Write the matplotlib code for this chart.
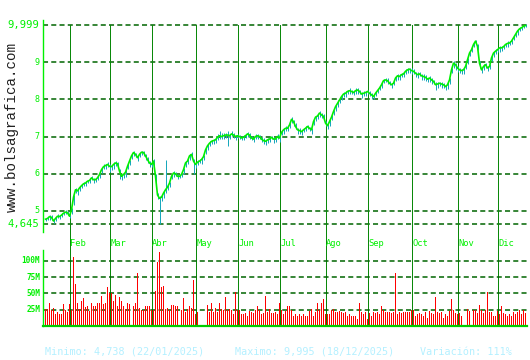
import matplotlib.pyplot as plt
import matplotlib.transforms as mtransforms
import numpy as np

# cierres diarios (precio)
cierre = [
    4.78, 4.80, 4.85, 4.83, 4.73, 4.80, 4.86, 4.85, 4.89, 4.94,
    4.97, 4.95, 4.86, 5.03, 5.37, 5.57, 5.54, 5.62, 5.68, 5.73,
    5.75, 5.80, 5.82, 5.89, 5.84, 5.84, 5.89, 5.98, 6.11, 6.19,
    6.22, 6.25, 6.20, 6.19, 6.25, 6.29, 6.27, 6.07, 5.93, 5.98,
    6.04, 6.20, 6.34, 6.48, 6.57, 6.52, 6.43, 6.52, 6.58, 6.57,
    6.48, 6.38, 6.29, 6.25, 6.34, 5.93, 5.43, 5.34, 5.37, 5.48,
    5.57, 5.64, 5.75, 5.93, 6.02, 6.00, 5.93, 5.93, 5.98, 6.11,
    6.29, 6.34, 6.48, 6.52, 6.34, 6.25, 6.31, 6.34, 6.38,
    6.46, 6.64, 6.75, 6.82, 6.87, 6.89, 6.91, 6.98, 7.02, 7.00,
    7.02, 7.04, 7.04, 7.02, 7.07, 7.04, 7.00, 7.02, 7.00, 6.96,
    6.98, 7.02, 7.07, 7.04, 6.96, 6.93, 7.00, 7.02, 7.00, 6.93,
    6.89, 6.87, 6.91, 6.93, 6.98, 6.93, 6.93, 7.00, 6.96, 7.11,
    7.18, 7.22, 7.22, 7.31, 7.46, 7.40, 7.27, 7.18, 7.16, 7.13,
    7.18, 7.22, 7.27, 7.22, 7.18, 7.40, 7.52, 7.55, 7.63, 7.58,
    7.54, 7.36, 7.29, 7.40, 7.52, 7.67, 7.80, 7.89, 7.98, 8.07,
    8.14, 8.16, 8.21, 8.23, 8.21, 8.18, 8.23, 8.25, 8.21, 8.14,
    8.16, 8.18,
    8.21, 8.16, 8.12, 8.07, 8.16, 8.23, 8.30, 8.39, 8.50, 8.52,
    8.50, 8.43, 8.39, 8.43, 8.57, 8.63, 8.61, 8.66, 8.68, 8.75,
    8.79, 8.81, 8.77, 8.75, 8.70, 8.66, 8.68, 8.63, 8.61, 8.59,
    8.54, 8.57, 8.52, 8.48, 8.39, 8.41, 8.43, 8.41, 8.39, 8.34,
    8.39, 8.52, 8.79, 8.97, 8.93, 8.84, 8.79, 8.77, 8.79, 8.88,
    9.06, 9.24, 9.33, 9.47, 9.56, 9.42, 8.97, 8.79, 8.88, 8.93,
    8.84, 8.88, 9.11, 9.24, 9.29, 9.33, 9.38, 9.38, 9.41, 9.47,
    9.50, 9.51, 9.56, 9.65, 9.74, 9.83, 9.89, 9.92, 9.96, 9.98,
]

# distancia del minimo y del maximo del dia al cierre
mecha_inf = [
    .06, .05, .08, .06, .05, .07, .05, .06, .05, .06,
    .05, .07, .06, .12, .20, .10, .12, .08, .07, .06,
    .08, .06, .07, .05, .08, .06, .06, .10, .08, .07,
    .09, .06, .14, .10, .12, .08, .10, .20, .09, .10,
    .12, .08, .10, .08, .10, .06, .09, .08, .07, .10,
    .12, .10, .12, .08, .20, .30, .10, .70, .10, .12,
    .10, .08, .10, .08, .10, .06, .06, .05, .06, .12,
    .10, .08, .10, .08, .36, .10, .07, .06, .12, .10,
    .12, .10, .08, .06, .10, .08, .08, .08, .06, .10,
    .08, .29, .08, .06, .08, .10, .06, .08, .06, .08,
    .06, .08, .10, .06, .08, .08, .10, .06, .08, .10,
    .10, .08, .08, .06, .10, .08, .08, .10, .06, .10,
    .08, .06, .08, .10, .12, .08, .10, .08, .08, .06,
    .08, .06, .08, .10, .08, .10, .08, .10, .08, .10,
    .08, .10, .12, .08, .10, .12, .10, .08, .10, .08,
    .10, .08, .10, .08, .06, .08, .10, .08, .10, .08,
    .08, .06, .08, .10, .06, .08, .06, .06, .08, .06,
    .06, .08, .06, .10, .06, .08, .10, .08, .06, .08,
    .06, .08, .10, .08, .06, .10, .08, .06, .10, .08,
    .10, .08, .12, .10, .08, .15, .10, .08, .10, .08,
    .10, .12, .10, .08, .12, .15, .10, .08, .10, .12,
    .08, .10, .08, .06, .08, .06, .10, .12, .08, .10,
    .10, .08, .06, .08, .10, .08, .06, .12, .08, .06,
    .08, .10, .06, .08, .06, .08, .10, .06, .05, .06,
    .05,
]
mecha_sup = [
    .04, .05, .03, .05, .06, .04, .05, .04, .05, .04,
    .05, .04, .05, .04, .05, .06, .05, .04, .05, .06,
    .05, .04, .06, .05, .04, .05, .06, .04, .05, .06,
    .05, .06, .05, .04, .06, .05, .04, .06, .05, .04,
    .06, .05, .04, .06, .05, .04, .06, .05, .04, .05,
    .04, .06, .05, .04, .06, .05, .04, .06, .05, .06,
    .81, .05, .04, .06, .05, .04, .06, .04, .05, .04,
    .06, .05, .04, .06, .05, .04, .06, .05, .04, .05,
    .06, .05, .06, .04, .05, .08, .10, .12, .10, .08,
    .06, .10, .05, .08, .06, .05, .06, .04, .05, .06,
    .05, .04, .06, .05, .04, .06, .05, .04, .05, .06,
    .04, .05, .06, .04, .05, .04, .06, .05, .04, .05,
    .06, .05, .04, .06, .05, .08, .05, .06, .04, .05,
    .06, .05, .04, .06, .05, .04, .06, .05, .04, .06,
    .05, .04, .06, .05, .04, .06, .08, .05, .04, .06,
    .05, .04, .06, .05, .04, .06, .05, .04, .05, .06,
    .04, .05, .06, .04, .05, .06, .04, .05, .06, .05,
    .04, .06, .05, .04, .06, .05, .04, .06, .05, .04,
    .06, .05, .04, .06, .05, .04, .06, .05, .04, .06,
    .05, .04, .06, .05, .04, .06, .05, .04, .06, .05,
    .04, .06, .05, .04, .06, .05, .04, .06, .05, .04,
    .06, .05, .04, .06, .05, .04, .06, .05, .04, .06,
    .05, .04, .06, .05, .04, .06, .05, .04, .06, .05,
    .04, .06, .05, .04, .06, .05, .04, .06, .03, .04,
    .03,
]

# volumen diario, millones
volumen = [
    26, 26, 35, 24, 27, 18, 21, 18, 18, 34,
    25, 21, 34, 25, 106, 64, 36, 26, 39, 43,
    29, 31, 23, 35, 31, 31, 35, 35, 46, 34,
    35, 60, 51, 51, 39, 48, 31, 45, 39, 31,
    26, 35, 34, 1, 31, 36, 81, 28, 25, 25,
    30, 30, 31, 25, 24, 54, 99, 114, 60, 61,
    26, 28, 24, 33, 33, 30, 30, 2, 25, 43,
    21, 26, 30, 28, 71, 19, 21, 1, 1, 1,
    1,
    33, 22, 36, 22, 28, 22, 36, 26, 25, 44,
    24, 26, 25, 19, 52, 24, 25, 18, 18, 20,
    15, 23, 21, 20, 25, 31, 24, 18, 20, 46,
    21, 26, 20, 20, 21, 19, 36, 25, 18, 23,
    30, 31, 24, 16, 18, 15, 18, 15, 18, 15,
    15, 23, 26, 16, 21, 35, 24, 36, 41, 19,
    19, 18, 25, 26, 21, 21, 23, 21, 20, 21,
    16, 18, 16, 16, 15, 11, 36, 21, 19, 22,
    11, 20,
    15, 21, 20, 21, 18, 30, 25, 22, 21, 22,
    20, 22, 81, 18, 22, 20, 21, 21, 21, 21,
    25, 24, 16, 18, 20, 19, 15, 21, 13, 23,
    20, 19, 45, 21, 20, 21, 13, 18, 16, 23,
    42, 25, 20, 19, 20, 16, 1, 1, 26, 23,
    1, 24, 24, 20, 33, 24, 20, 25, 53, 22,
    22, 16, 15, 23, 19, 30, 20, 19, 15, 19,
    16, 21, 18, 21, 25, 18, 25, 20,
]

meses = ["Feb", "Mar", "Abr", "May", "Jun", "Jul", "Ago", "Sep", "Oct", "Nov", "Dic"]
dia_mes = [12, 32, 53, 75, 96, 117, 140, 161, 183, 206, 226]
niveles = [5, 6, 7, 8, 9]
precio_min, precio_max = 4.645, 9.999
niveles_vol = [25, 50, 75, 100]
etiquetas_vol = ["25M", "50M", "75M", "100M"]
pie = ["Minimo: 4,738 (22/01/2025)", "Maximo: 9,995 (18/12/2025)", "Variación: 111%"]
pie_x = [45, 235, 420]

VERDE = "#00f000"
VERDE_OSC = "#006400"
VERDE_MES = "#0a880a"
TURQUESA = "#18a8bc"
MONO = "DejaVu Sans Mono"

W, H = 530, 360
fig = plt.figure(figsize=(W / 100, H / 100), dpi=100)


def caja(x0, y0, x1, y1):
    return [x0 / W, 1 - y1 / H, (x1 - x0) / W, (y1 - y0) / H]


ax = fig.add_axes(caja(43, 20, 527, 232))
axv = fig.add_axes(caja(43, 250, 527, 326))

# 2 px por sesion; +0.25 centra cada marca de 1 px en su pixel
x = np.arange(len(cierre))
xv = np.arange(len(volumen))
c = np.array(cierre)

for a in (ax, axv):
    a.set_xlim(-1, 241)
    a.set_xticks([])
    a.set_yticks([])
    for s in ("top", "right", "bottom"):
        a.spines[s].set_visible(False)
    a.spines["left"].set_color(VERDE)
    a.spines["left"].set_linewidth(1)

# --- precio
ax.set_ylim(4.436, 10.128)
for v in niveles + [precio_min, precio_max]:
    ax.axhline(v, color=VERDE_OSC, lw=1.1, ls=(0, (3.3, 2.1)), zorder=1)

tope = (precio_max - 4.436) / (10.128 - 4.436)
for d in dia_mes:
    ax.axvline(d + 0.25, ymin=-0.09, ymax=tope, color=VERDE_MES, lw=0.72,
               clip_on=False, zorder=1)
    axv.axvline(d + 0.25, color=VERDE_MES, lw=0.72, zorder=1)

ax.vlines(x + 0.25, c - np.array(mecha_inf), c + np.array(mecha_sup), color=TURQUESA,
          lw=0.72, zorder=2)
ax.plot(x + 0.25, c, color=VERDE, lw=1.2, zorder=3)

trans = mtransforms.blended_transform_factory(ax.transAxes, ax.transData)
for v in niveles:
    ax.text(-0.008, v, str(v), transform=trans, ha="right", va="center",
            color=VERDE, fontsize=6, family=MONO)
for v in (precio_min, precio_max):
    ax.text(-0.008, v, f"{v:.3f}".replace(".", ","), transform=trans, ha="right",
            va="center", color=VERDE, fontsize=7.6, family=MONO)

trans_mes = mtransforms.blended_transform_factory(ax.transData, ax.transAxes)
for d, m in zip(dia_mes, meses):
    ax.text(d + 0.6, -0.052, m, transform=trans_mes, ha="left", va="center",
            color=VERDE, fontsize=6.3, family=MONO)

# --- volumen
axv.set_ylim(0, 116.9)
for v in niveles_vol:
    axv.axhline(v, color=VERDE_OSC, lw=1.1, ls=(0, (3.3, 2.1)), zorder=1)
axv.bar(xv + 0.25, volumen, width=0.6, color="#ff0000", lw=0, zorder=2)
axv.axhline(0, color="#00cc00", lw=1.6, zorder=3, clip_on=False)

trans_v = mtransforms.blended_transform_factory(axv.transAxes, axv.transData)
for v, t in zip(niveles_vol, etiquetas_vol):
    axv.text(-0.006, v, t, transform=trans_v, ha="right", va="center",
             color=VERDE, fontsize=5.6, family=MONO, fontweight="bold")

# --- textos
fig.text(12 / W, 1 - 127 / H, "www.bolsagrafica.com", rotation=90, ha="center",
         va="center", color="#202020", fontsize=10.2, family="Liberation Mono")
for t, px in zip(pie, pie_x):
    fig.text(px / W, 1 - 352 / H, t, ha="left", va="center", color="#b4f0ff",
             fontsize=7.3, family=MONO)

fig.savefig("out.png", dpi=100)
